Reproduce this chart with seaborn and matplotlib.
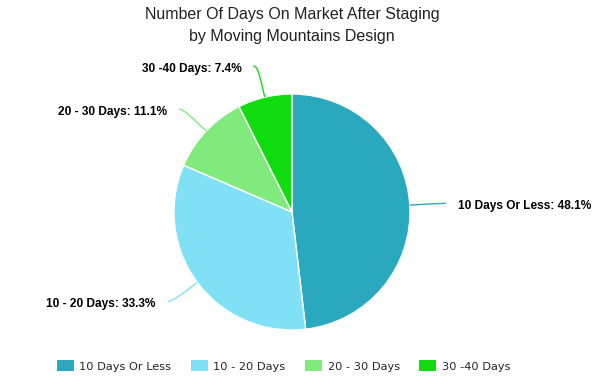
import numpy as np
import matplotlib
matplotlib.use("Agg")
import matplotlib.pyplot as plt
from matplotlib.path import Path
from matplotlib.patches import PathPatch, Rectangle
import seaborn as sns

# Data
categories = ["10 Days Or Less", "10 - 20 Days", "20 - 30 Days", "30 -40 Days"]
percents = [48.1, 33.3, 11.1, 7.4]
colors = ["#2aa8be", "#80e1f6", "#80ea7c", "#10dc10"]

sns.set_theme(style="white")
palette = sns.color_palette(colors)

W, H = 611, 389
cx, cy, R = 292, 212, 118  # pie centre / radius in pixels

fig = plt.figure(figsize=(W / 100, H / 100), dpi=100)
ax = fig.add_axes([0, 0, 1, 1])

wedges, _ = ax.pie(percents, colors=palette, startangle=90, counterclock=False,
                   radius=1.0, wedgeprops=dict(edgecolor="white", linewidth=1))
ax.set_xlim(-cx / R, (W - cx) / R)
ax.set_ylim(-(H - cy) / R, cy / R)
ax.set_aspect("equal")
ax.axis("off")

# soft connectors + data labels (label anchor ~32px outside the edge)
px = 1.0 / R
r_lab = 1 + 32 * px
r_brk = 1 + 8 * px
for w, cat, pct, col in zip(wedges, categories, percents, palette):
    mid = np.deg2rad((w.theta1 + w.theta2) / 2)
    c, s = np.cos(mid), np.sin(mid)
    side = 1 if c >= 0 else -1
    edge = np.array([c, s])
    brk = r_brk * edge
    lab = np.array([r_lab * c + side * 4 * px, r_lab * s])
    c1 = lab - np.array([side * 5 * px, 0])
    c2 = 2 * brk - edge
    path = Path([lab, c1, c2, brk, edge],
                [Path.MOVETO, Path.CURVE4, Path.CURVE4, Path.CURVE4, Path.LINETO])
    ax.add_patch(PathPatch(path, fill=False, edgecolor=col, linewidth=1))
    ax.text(lab[0] + side * 12 * px, lab[1] - 2.5 * px, f"{cat}: {pct}%",
            ha="left" if side > 0 else "right", va="center",
            fontsize=8.6, fontweight="bold", family="Liberation Sans",
            color="black")

fig.text(cx / W, 1 - 15 / H, "Number Of Days On Market After Staging",
         ha="center", va="center", fontsize=11.5, family="Liberation Sans",
         color="#222222")
fig.text(cx / W, 1 - 36 / H, "by Moving Mountains Design",
         ha="center", va="center", fontsize=11.5, family="Liberation Sans",
         color="#222222")

handles = [Rectangle((0, 0), 1, 1, facecolor=c, edgecolor="none") for c in palette]
fig.legend(handles, categories, loc="center", bbox_to_anchor=(283.5 / W, 1 - 366 / H),
           ncol=4, frameon=False, handlelength=1.5,
           handleheight=1.1, handletextpad=0.5, columnspacing=1.7,
           prop=dict(family="DejaVu Sans", size=8.2))

fig.savefig("out.png", dpi=100)
